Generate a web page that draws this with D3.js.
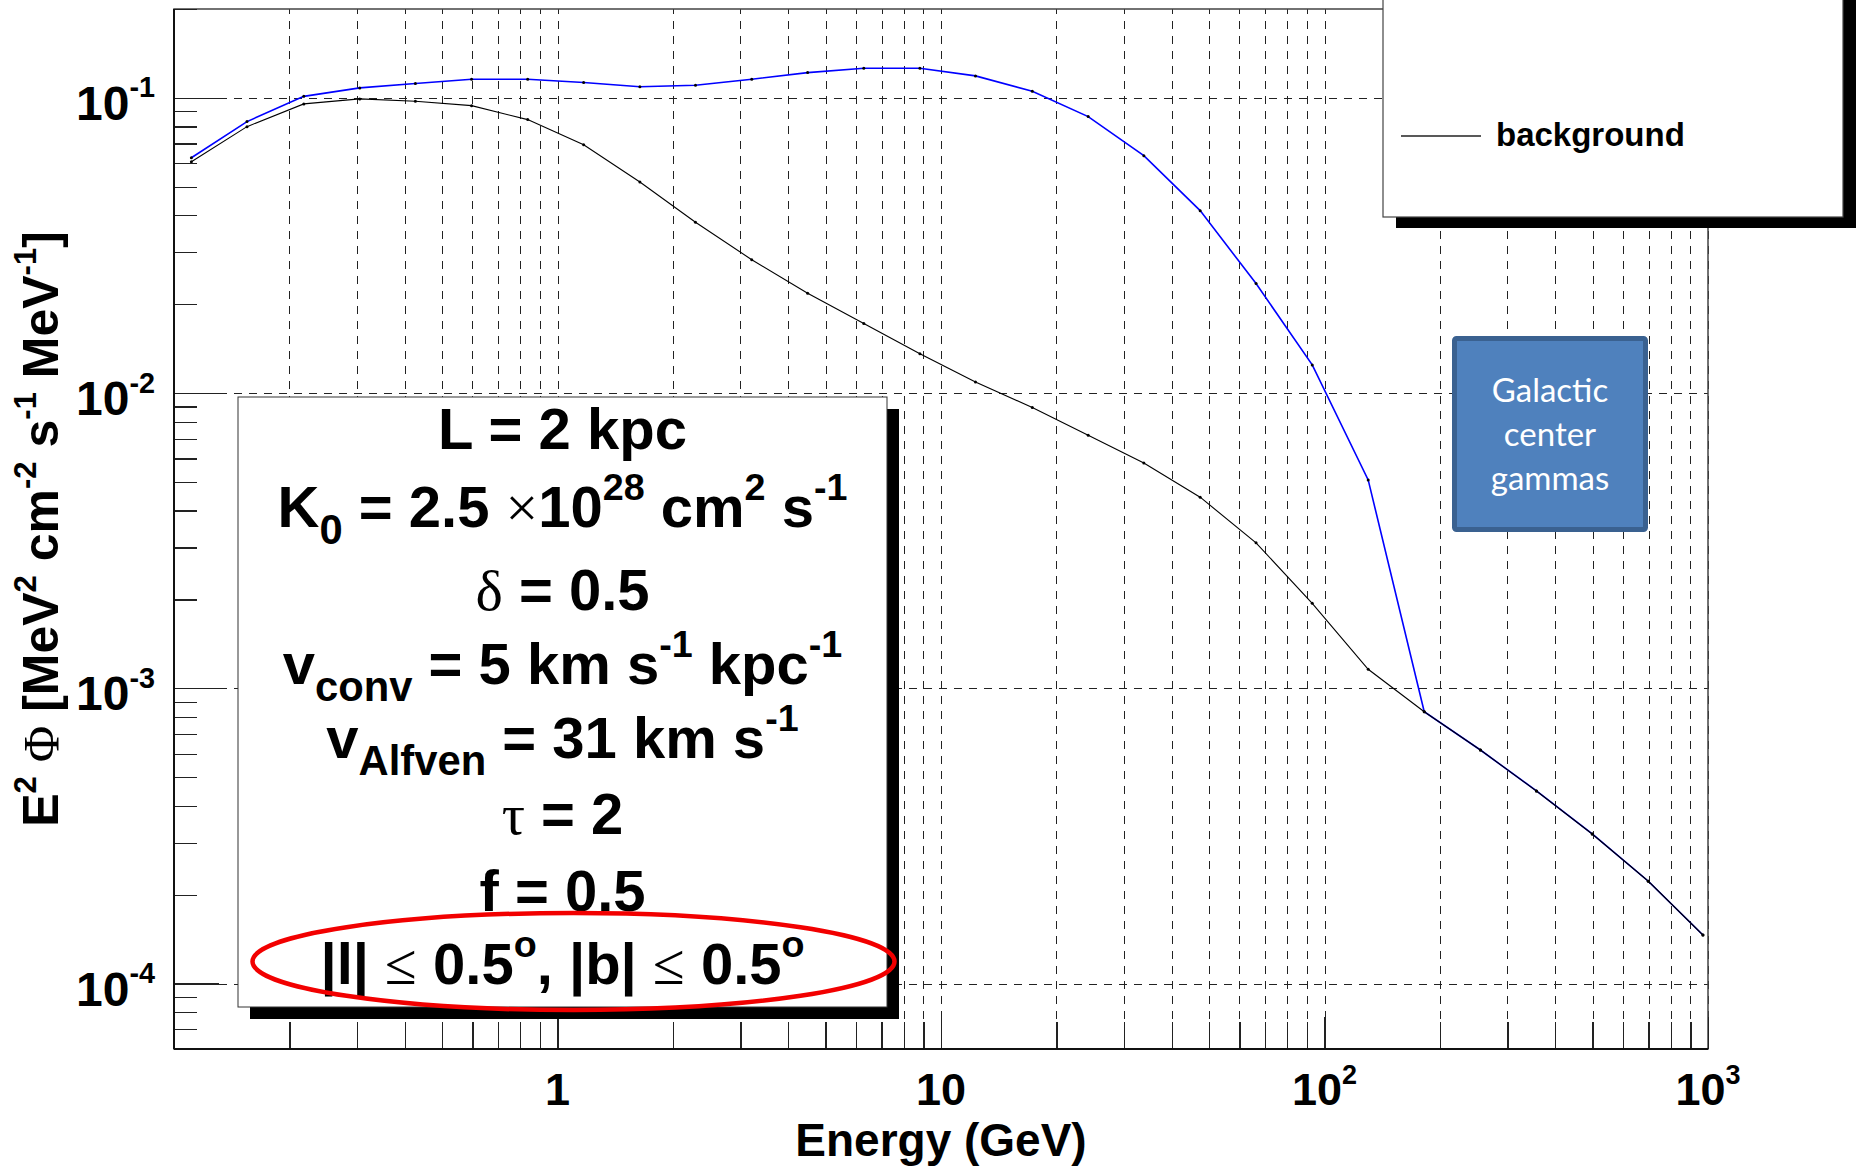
<!DOCTYPE html>
<html>
<head>
<meta charset="utf-8">
<script src="https://cdn.jsdelivr.net/npm/d3@7"></script>
<style>
body{margin:0;background:#fff;}
svg{display:block;}
text{white-space:pre;}
</style>
</head>
<body>
<svg id="chart" width="1860" height="1168"></svg>
<script>
// energies (GeV) of the computed points
var energy = [0.111, 0.155, 0.218, 0.305, 0.426, 0.597, 0.836, 1.17, 1.64, 2.29,
              3.21, 4.49, 6.29, 8.81, 12.3, 17.3, 24.2, 33.8, 47.4, 66.3,
              92.9, 130, 182, 255, 357, 499, 699, 970];
// E^2 flux, background only (black)
var background = [0.0608, 0.0799, 0.0954, 0.0992, 0.0974, 0.0941, 0.0844, 0.0694, 0.0519, 0.0379,
                  0.0283, 0.0218, 0.0172, 0.0136, 0.0109, 0.00894, 0.00720, 0.00580, 0.00444, 0.00311,
                  0.00194, 0.00116, 0.000833, 0.000618, 0.000449, 0.000321, 0.000222, 0.000146];
// E^2 flux, background + signal (blue)
var total = [0.0627, 0.0831, 0.1012, 0.1081, 0.1118, 0.1156, 0.1156, 0.1127, 0.1090, 0.1103,
             0.1156, 0.1218, 0.1260, 0.1260, 0.1187, 0.1053, 0.0864, 0.0637, 0.0415, 0.0235,
             0.01246, 0.00508, 0.000833, 0.000618, 0.000449, 0.000321, 0.000222, 0.000146];

var xTickValues = [1, 10, 100, 1000];
var xTickLabels = [["1"], ["10"], ["10", "2"], ["10", "3"]];
var yTickValues = [1e-1, 1e-2, 1e-3, 1e-4];
var yTickLabels = [["10", "-1"], ["10", "-2"], ["10", "-3"], ["10", "-4"]];

var xTitle = "Energy (GeV)";
var yTitle = [["E"], ["2", "sup"], [" "], ["\u03A6", "n", "serif"], [" [MeV"], ["2", "sup"], [" cm"], ["-2", "sup"],
              [" s"], ["-1", "sup"], [" MeV"], ["-1", "sup"], ["]"]];
var legendLabel = "background";
var boxLabel = ["Galactic", "center", "gammas"];
var paramLines = [
    [["L = 2 kpc"]],
    [["K"], ["0", "sub"], [" = 2.5 "], ["\u00D7", "n", "serif"], ["10"], ["28", "sup"], [" cm"], ["2", "sup"], [" s"], ["-1", "sup"]],
    [["\u03B4", "n", "serif"], [" = 0.5"]],
    [["v"], ["conv", "sub"], [" = 5 km s"], ["-1", "sup"], [" kpc"], ["-1", "sup"]],
    [["v"], ["Alfven", "sub"], [" = 31 km s"], ["-1", "sup"]],
    [["\u03C4", "n", "serif"], [" = 2"]],
    [["f = 0.5"]],
    [["|l| "], ["\u2264", "n", "serif"], [" 0.5"], ["o", "sup"], [", |b| "], ["\u2264", "n", "serif"], [" 0.5"], ["o", "sup"]]
];

var SANS = "'Liberation Sans', Arial, Helvetica, sans-serif";
var SERIF = "'Liberation Serif', 'Times New Roman', serif";

var svg = d3.select("#chart");
var frame = {left: 174, right: 1708, top: 9, bottom: 1049};

var x = d3.scaleLog().domain([0.1, 1000]).range([frame.left, frame.right]);
var y = d3.scaleLog().domain([6e-5, 0.2]).range([frame.bottom, frame.top]);

// minor tick values 2..9 x 10^k
var xMinor = [], yMinor = [];
for (var k = -1; k < 3; k++) {
    for (var m = 2; m <= 9; m++) xMinor.push(m * Math.pow(10, k));
}
for (var k = -5; k < 0; k++) {
    for (var m = 2; m <= 9; m++) {
        var v = m * Math.pow(10, k);
        if (v >= 6e-5 && v <= 0.2) yMinor.push(v);
    }
}

// rich text with sub/superscripts
function rich(sel, parts, size, supScale, supShift) {
    supScale = supScale || 0.65;
    supShift = supShift || 0.46;
    var off = 0;
    parts.forEach(function(p) {
        var mode = p[1] || "n";
        var shift = mode === "sup" ? -supShift * size : (mode === "sub" ? 0.3 * size : 0);
        var fs = mode === "sup" ? size * supScale : (mode === "sub" ? size * 0.72 : size);
        var ts = sel.append("tspan").text(p[0]).attr("dy", shift - off).attr("font-size", fs);
        if (p[2] === "serif") ts.attr("font-family", SERIF).attr("font-weight", "normal");
        off = shift;
    });
}

// grid
var grid = svg.append("g").attr("class", "grid");
grid.append("g")
    .attr("transform", "translate(0," + frame.bottom + ")")
    .call(d3.axisBottom(x).tickValues(xMinor.concat(xTickValues)).tickSize(-(frame.bottom - frame.top)).tickFormat(""));
grid.append("g")
    .attr("transform", "translate(" + frame.left + ",0)")
    .call(d3.axisLeft(y).tickValues(yTickValues).tickSize(-(frame.right - frame.left)).tickFormat(""));
grid.selectAll(".domain").remove();
grid.selectAll("line")
    .attr("stroke", "#222")
    .attr("stroke-width", 1)
    .attr("stroke-dasharray", "8,7")
    .attr("shape-rendering", "crispEdges");

// curves
var line = d3.line()
    .x(function(d) { return x(d[0]); })
    .y(function(d) { return y(d[1]); });

var totalPts = energy.map(function(e, i) { return [e, total[i]]; });
var bgPts = energy.map(function(e, i) { return [e, background[i]]; });

svg.append("path").datum(totalPts)
    .attr("d", line).attr("fill", "none").attr("stroke", "#0000ff").attr("stroke-width", 1.6);
svg.append("path").datum(bgPts)
    .attr("d", line).attr("fill", "none").attr("stroke", "#000").attr("stroke-width", 1.1);

[totalPts, bgPts].forEach(function(pts) {
    svg.append("g").selectAll("circle").data(pts).enter().append("circle")
        .attr("cx", function(d) { return x(d[0]); })
        .attr("cy", function(d) { return y(d[1]); })
        .attr("r", 1.5).attr("fill", "#000");
});

// frame
svg.append("rect")
    .attr("x", frame.left).attr("y", frame.top)
    .attr("width", frame.right - frame.left).attr("height", frame.bottom - frame.top)
    .attr("fill", "none").attr("stroke", "#444").attr("stroke-width", 1.5);

// ticks
var ticks = svg.append("g").attr("class", "ticks");
ticks.append("g").attr("transform", "translate(" + frame.left + ",0)")
    .call(d3.axisRight(y).tickValues(yMinor).tickSize(23).tickFormat(""));
ticks.append("g").attr("transform", "translate(" + frame.left + ",0)")
    .call(d3.axisRight(y).tickValues(yTickValues).tickSize(45).tickFormat(""));
ticks.append("g").attr("transform", "translate(0," + frame.bottom + ")")
    .call(d3.axisTop(x).tickValues(xMinor).tickSize(27).tickFormat(""));
ticks.append("g").attr("transform", "translate(0," + frame.bottom + ")")
    .call(d3.axisTop(x).tickValues(xTickValues).tickSize(32).tickFormat(""));
ticks.selectAll(".domain").remove();
ticks.selectAll("line").attr("stroke", "#222").attr("stroke-width", 1.2).attr("shape-rendering", "crispEdges");

// axis lines
svg.append("line").attr("x1", frame.left).attr("x2", frame.left).attr("y1", frame.top).attr("y2", frame.bottom)
    .attr("stroke", "#111").attr("stroke-width", 2);
svg.append("line").attr("x1", frame.left).attr("x2", frame.right).attr("y1", frame.bottom).attr("y2", frame.bottom)
    .attr("stroke", "#111").attr("stroke-width", 2);

// tick labels
xTickValues.forEach(function(v, i) {
    var t = svg.append("text")
        .attr("x", x(v)).attr("y", 1105)
        .attr("text-anchor", "middle")
        .attr("font-family", SANS).attr("font-weight", "bold");
    rich(t, [[xTickLabels[i][0]]].concat(xTickLabels[i][1] ? [[xTickLabels[i][1], "sup"]] : []), 45, 0.6, 0.47);
});
yTickValues.forEach(function(v, i) {
    var t = svg.append("text")
        .attr("x", 155).attr("y", y(v) + 22)
        .attr("text-anchor", "end")
        .attr("font-family", SANS).attr("font-weight", "bold");
    rich(t, [[yTickLabels[i][0]], [yTickLabels[i][1], "sup"]], 48, 0.6, 0.47);
});

// axis titles
svg.append("text")
    .attr("x", (frame.left + frame.right) / 2).attr("y", 1156)
    .attr("text-anchor", "middle")
    .attr("font-family", SANS).attr("font-weight", "bold").attr("font-size", 46)
    .text(xTitle);
var yt = svg.append("text")
    .attr("transform", "translate(58," + ((frame.top + frame.bottom) / 2) + ") rotate(-90)")
    .attr("text-anchor", "middle")
    .attr("font-family", SANS).attr("font-weight", "bold");
rich(yt, yTitle, 50, 0.62, 0.45);

// parameter box
var pb = {x: 238, y: 397, w: 649, h: 610};
svg.append("rect").attr("x", pb.x + 12).attr("y", pb.y + 12).attr("width", pb.w).attr("height", pb.h).attr("fill", "#000");
svg.append("rect").attr("x", pb.x).attr("y", pb.y).attr("width", pb.w).attr("height", pb.h)
    .attr("fill", "#fff").attr("stroke", "#333").attr("stroke-width", 1);
var baselines = [449, 527, 610, 684, 758, 834, 911, 984];
paramLines.forEach(function(parts, i) {
    var t = svg.append("text")
        .attr("x", pb.x + pb.w / 2).attr("y", baselines[i])
        .attr("text-anchor", "middle")
        .attr("font-family", SANS).attr("font-weight", "bold");
    rich(t, parts, 58);
});

// red ellipse
svg.append("ellipse")
    .attr("cx", 573.5).attr("cy", 961.5).attr("rx", 321).attr("ry", 48.5)
    .attr("fill", "none").attr("stroke", "#f20000").attr("stroke-width", 4.5);

// legend
var lg = {x: 1383, y: -30, w: 460, h: 247};
svg.append("rect").attr("x", lg.x + 13).attr("y", lg.y + 11).attr("width", lg.w).attr("height", lg.h).attr("fill", "#000");
svg.append("rect").attr("x", lg.x).attr("y", lg.y).attr("width", lg.w).attr("height", lg.h)
    .attr("fill", "#fff").attr("stroke", "#444").attr("stroke-width", 1.2);
svg.append("line").attr("x1", 1401).attr("x2", 1481).attr("y1", 136).attr("y2", 136)
    .attr("stroke", "#222").attr("stroke-width", 1.5);
svg.append("text").attr("x", 1496).attr("y", 146)
    .attr("font-family", SANS).attr("font-weight", "bold").attr("font-size", 33)
    .text(legendLabel);

// "Galactic center gammas" box
svg.append("rect").attr("x", 1454.5).attr("y", 338.5).attr("width", 191).attr("height", 191).attr("rx", 2)
    .attr("fill", "#4f81bd").attr("stroke", "#3a6190").attr("stroke-width", 5);
var boxBase = [401.5, 445.7, 490];
boxLabel.forEach(function(s, i) {
    svg.append("text").attr("x", 1550).attr("y", boxBase[i])
        .attr("text-anchor", "middle")
        .attr("font-family", "Lato, 'Open Sans', sans-serif").attr("font-size", 33)
        .attr("fill", "#fff").text(s);
});
</script>
</body>
</html>
